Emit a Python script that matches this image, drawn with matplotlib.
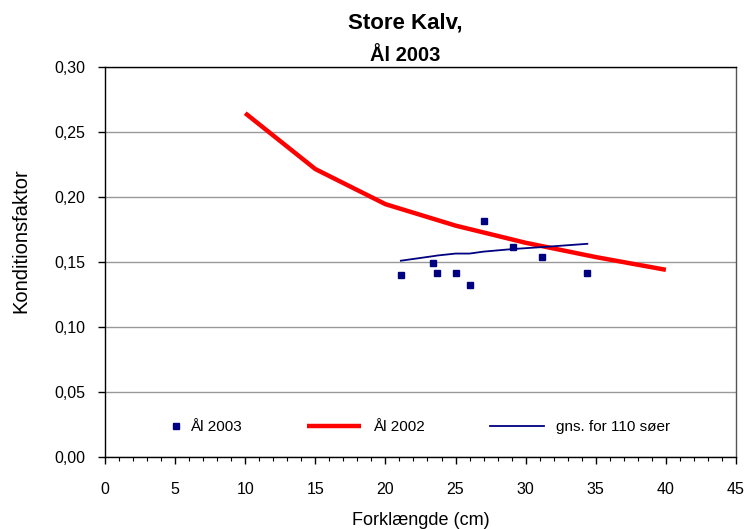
import matplotlib.pyplot as plt
from matplotlib.ticker import MultipleLocator, FuncFormatter
from matplotlib.legend_handler import HandlerLine2D

plt.rcParams['font.family'] = ['Liberation Sans', 'DejaVu Sans']

# Ål 2003 - målte fisk
laengde_2003 = [21.1, 23.4, 23.7, 25.0, 26.0, 27.0, 29.1, 31.2, 34.4]
kondition_2003 = [0.140, 0.149, 0.1415, 0.1415, 0.132, 0.1815, 0.1615, 0.154, 0.1415]

# Ål 2002 - kurve
laengde_2002 = [10, 15, 20, 25, 30, 35, 40]
kondition_2002 = [0.2645, 0.2215, 0.1945, 0.178, 0.1648, 0.1538, 0.144]

# gennemsnit for 110 søer
gns_110 = [0.151, 0.1545, 0.155, 0.1565, 0.1565, 0.158, 0.160, 0.1615, 0.164]

navy = '#000080'


class MarkerAtEnd(HandlerLine2D):
    # place the marker at the right end of the legend handle
    def get_xdata(self, legend, xdescent, ydescent, width, height, fontsize):
        x = -xdescent + width - 0.1 * fontsize
        return [x, x], [x]


fig = plt.figure(figsize=(7.5, 5.29), dpi=100)
ax = fig.add_axes([0.14, 0.1361, 0.8413, 0.7372])

ax.yaxis.grid(True, color='#999999', linewidth=1)
ax.set_axisbelow(True)

ax.plot(laengde_2002, kondition_2002, color='#ff0000', linewidth=3.2,
        solid_capstyle='butt', label='Ål 2002', zorder=2)
ax.plot(laengde_2003, gns_110, color=navy, linewidth=1.3,
        label='gns. for 110 søer', zorder=3)
pts, = ax.plot(laengde_2003, kondition_2003, linestyle='none', marker='s',
               markersize=5, color=navy, label='Ål 2003', zorder=4)

ax.set_xlim(0, 45)
ax.set_ylim(0, 0.30)
ax.xaxis.set_major_locator(MultipleLocator(5))
ax.xaxis.set_minor_locator(MultipleLocator(1))
ax.yaxis.set_major_locator(MultipleLocator(0.05))
ax.yaxis.set_major_formatter(FuncFormatter(lambda v, p: f'{v:.2f}'.replace('.', ',')))
ax.tick_params(axis='both', which='major', direction='out', length=5,
               width=1, labelsize=11.5)
ax.tick_params(axis='y', which='major', pad=9)
ax.tick_params(axis='x', which='major', pad=13)
ax.tick_params(axis='x', which='minor', direction='out', length=3, width=0.8)

for side in ['left', 'bottom', 'top']:
    ax.spines[side].set_color('black')
    ax.spines[side].set_linewidth(1)
ax.spines['right'].set_color('#555555')
ax.spines['right'].set_linewidth(1)

ax.set_xlabel('Forklængde (cm)', fontsize=13, labelpad=11)
ax.set_ylabel('Konditionsfaktor', fontsize=14.5)
ax.yaxis.set_label_coords(-0.118, 0.556)

handles, labels = ax.get_legend_handles_labels()
order = [2, 0, 1]
ax.legend([handles[i] for i in order], [labels[i] for i in order],
          handler_map={pts: MarkerAtEnd()},
          loc='center', bbox_to_anchor=(0.463, 0.077), ncol=3,
          frameon=False, fontsize=11, handlelength=3.5,
          handletextpad=0.8, columnspacing=4.3)

fig.text(0.54, 0.956, 'Store Kalv,', ha='center', va='center',
         fontsize=16, fontweight='bold')
fig.text(0.54, 0.896, 'Ål 2003', ha='center', va='center',
         fontsize=14.5, fontweight='bold')

fig.savefig('out.png', dpi=100)
